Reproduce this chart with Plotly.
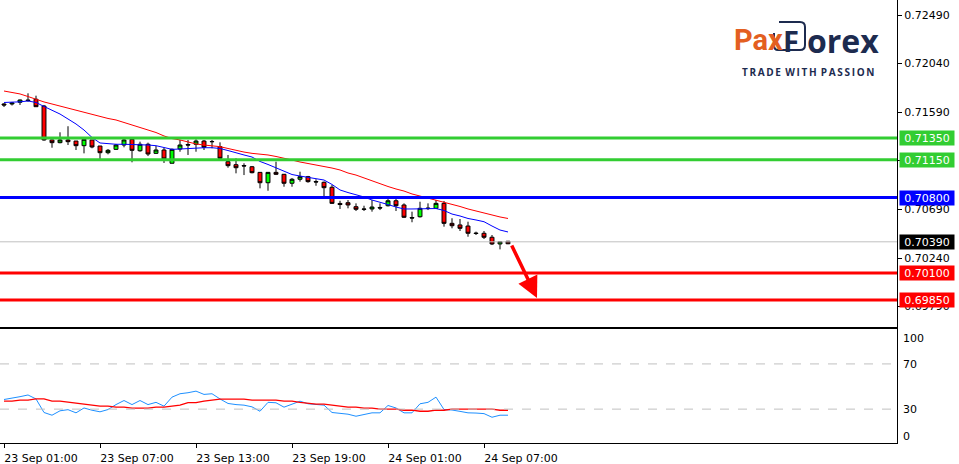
import plotly.graph_objects as go
import pandas as pd

W, H = 959, 464

times = pd.date_range("2020-09-23 01:00", periods=64, freq="30min")

opens = [0.71666,0.71666,0.71682,0.71703,0.71710,0.71647,0.71333,0.71308,0.71333,0.71323,
         0.71280,0.71333,0.71277,0.71215,0.71246,0.71286,0.71339,0.71233,0.71293,0.71209,
         0.71240,0.71117,0.71249,0.71291,0.71293,0.71323,0.71319,0.71271,0.71132,0.71104,
         0.71096,0.71085,0.71033,0.70937,0.71033,0.71015,0.70932,0.70969,0.70993,0.70948,
         0.70941,0.70895,0.70745,0.70752,0.70715,0.70694,0.70694,0.70708,0.70724,0.70770,
         0.70731,0.70615,0.70622,0.70703,0.70700,0.70746,0.70561,0.70546,0.70536,0.70471,
         0.70469,0.70432,0.70370,0.70395]
highs = [0.71675,0.71685,0.71708,0.71765,0.71743,0.71657,0.71337,0.71404,0.71460,0.71323,
         0.71342,0.71333,0.71277,0.71249,0.71296,0.71342,0.71347,0.71317,0.71308,0.71277,
         0.71261,0.71254,0.71333,0.71333,0.71339,0.71333,0.71333,0.71311,0.71194,0.71163,
         0.71117,0.71092,0.71036,0.71036,0.71132,0.71018,0.70981,0.71039,0.71000,0.70969,
         0.70948,0.70916,0.70770,0.70777,0.70746,0.70724,0.70777,0.70746,0.70786,0.70786,
         0.70746,0.70669,0.70761,0.70746,0.70777,0.70768,0.70608,0.70601,0.70576,0.70484,
         0.70490,0.70453,0.70397,0.70398]
lows = [0.71638,0.71652,0.71657,0.71687,0.71641,0.71326,0.71261,0.71302,0.71286,0.71240,
        0.71209,0.71256,0.71157,0.71200,0.71240,0.71265,0.71126,0.71224,0.71184,0.71203,
        0.71120,0.71117,0.71224,0.71194,0.71224,0.71240,0.71256,0.71157,0.71076,0.71024,
        0.71008,0.71024,0.70885,0.70863,0.71008,0.70900,0.70900,0.70947,0.70937,0.70909,
        0.70808,0.70740,0.70694,0.70700,0.70675,0.70675,0.70669,0.70684,0.70717,0.70675,
        0.70610,0.70571,0.70615,0.70684,0.70694,0.70530,0.70515,0.70490,0.70437,0.70453,
        0.70416,0.70360,0.70320,0.70368]
closes = [0.71657,0.71675,0.71703,0.71698,0.71641,0.71333,0.71308,0.71333,0.71317,0.71280,
          0.71339,0.71268,0.71215,0.71237,0.71286,0.71333,0.71237,0.71293,0.71203,0.71240,
          0.71157,0.71246,0.71286,0.71286,0.71323,0.71265,0.71317,0.71163,0.71095,0.71076,
          0.71092,0.71030,0.70937,0.71033,0.71015,0.70932,0.70969,0.70993,0.70947,0.70944,
          0.70891,0.70746,0.70735,0.70731,0.70691,0.70691,0.70712,0.70703,0.70770,0.70724,
          0.70617,0.70610,0.70700,0.70698,0.70746,0.70561,0.70539,0.70515,0.70469,0.70467,
          0.70432,0.70370,0.70391,0.70372]

ma_slow = [0.71786,0.71772,0.71759,0.71735,0.71708,0.71685,0.71666,0.71647,0.71624,0.71606,
           0.71592,0.71573,0.71550,0.71532,0.71518,0.71495,0.71476,0.71453,0.71430,0.71402,
           0.71370,0.71346,0.71333,0.71314,0.71296,0.71286,0.71277,0.71271,0.71254,0.71235,
           0.71221,0.71209,0.71203,0.71194,0.71180,0.71166,0.71147,0.71129,0.71115,0.71106,
           0.71092,0.71073,0.71055,0.71027,0.71008,0.70981,0.70953,0.70925,0.70902,0.70879,
           0.70860,0.70833,0.70814,0.70796,0.70777,0.70758,0.70740,0.70717,0.70694,0.70675,
           0.70652,0.70633,0.70620,0.70606]
ma_fast = [0.71680,0.71682,0.71686,0.71694,0.71680,0.71643,0.71610,0.71573,0.71527,0.71481,
           0.71425,0.71356,0.71305,0.71296,0.71293,0.71293,0.71293,0.71291,0.71286,0.71280,
           0.71263,0.71246,0.71249,0.71254,0.71258,0.71261,0.71261,0.71254,0.71235,0.71212,
           0.71194,0.71175,0.71134,0.71106,0.71073,0.71041,0.71013,0.70999,0.70987,0.70976,
           0.70962,0.70921,0.70870,0.70846,0.70828,0.70805,0.70777,0.70758,0.70735,0.70712,
           0.70694,0.70694,0.70696,0.70700,0.70698,0.70680,0.70647,0.70629,0.70606,0.70592,
           0.70576,0.70536,0.70499,0.70481]

rsi = [38.5,39.5,41,42.5,39,27,24.6,28.5,29.5,26.7,31,29,27.6,29.6,34,37.6,34,37.6,34,36,
       32.6,40.6,43.6,44.5,45.9,43,43.6,39,35,34,33.5,32,28.1,36,35.6,31.7,34.5,37,34.7,34,
       33.5,27,26.5,25.5,23.7,25.5,26.7,26.7,33.2,31,26.7,26.7,34.7,36,40.6,29.6,29.2,28,26.7,26.5,
       26,22.8,24.6,24.6]
rsi_signal = [37,37,38,38,39,39,37,37,36.1,35.3,34.4,33.2,32.6,32.6,31.7,31.7,30.8,30.8,30.8,31.7,
              31.7,32.6,33.5,35.7,35.7,37,38,38.8,38.8,38.8,38.8,38,38,38,38,37,37,36,35,34.4,
              34.4,33.5,32.6,31.7,31.7,30.8,30.8,29.9,29.9,29.9,29,29,28.1,28.1,29,29,29.9,29.9,29.9,29.9,
              29.9,29.9,29,29]

price_ticks = [0.72490, 0.72040, 0.71590, 0.71140, 0.70690, 0.70240, 0.69790]
time_tick_idx = [0, 12, 24, 36, 48, 60]
time_tick_labels = ["23 Sep 01:00", "23 Sep 07:00", "23 Sep 13:00", "23 Sep 19:00",
                    "24 Sep 01:00", "24 Sep 07:00"]

levels = [0.71350, 0.71150, 0.70800, 0.70100, 0.69850]
level_colors = ["#32cd32", "#32cd32", "#0000ff", "#ff0000", "#ff0000"]
bid = 0.70390
rsi_levels = [70, 30]
rsi_labels = ["100", "70", "30", "0"]

FONT = "DejaVu Sans"
LOGO = "Open Sans"
ORANGE = "#e35f21"
NAVY = "#1d2b4f"
XR = 897 / W


def px(x):
    return x / W


def py(y):
    return 1 - y / H


fig = go.Figure()
fig.add_trace(go.Candlestick(
    x=times, open=opens, high=highs, low=lows, close=closes,
    increasing=dict(line=dict(color="black", width=1), fillcolor="#00ff00"),
    decreasing=dict(line=dict(color="black", width=1), fillcolor="#ff0000"),
    whiskerwidth=0, xaxis="x", yaxis="y", showlegend=False, hoverinfo="skip"))
fig.add_trace(go.Scatter(x=times, y=ma_slow, mode="lines", line=dict(color="#ff0000", width=1),
                         xaxis="x", yaxis="y", showlegend=False, hoverinfo="skip"))
fig.add_trace(go.Scatter(x=times, y=ma_fast, mode="lines", line=dict(color="#0000ff", width=1),
                         xaxis="x", yaxis="y", showlegend=False, hoverinfo="skip"))
fig.add_trace(go.Scatter(x=times, y=rsi, mode="lines", line=dict(color="#1e90ff", width=1),
                         xaxis="x2", yaxis="y2", showlegend=False, hoverinfo="skip"))
fig.add_trace(go.Scatter(x=times, y=rsi_signal, mode="lines", line=dict(color="#ff0000", width=1.3),
                         xaxis="x2", yaxis="y2", showlegend=False, hoverinfo="skip"))

xrange = [pd.Timestamp("2020-09-23 00:45"), pd.Timestamp("2020-09-25 08:48:45")]

shapes = []
annotations = []
# bid line
shapes.append(dict(type="line", xref="x domain", yref="y", x0=0, x1=1, y0=bid, y1=bid,
                   line=dict(color="#c0c0c0", width=1)))
for lv, col in zip(levels, level_colors):
    shapes.append(dict(type="line", xref="x domain", yref="y", x0=0, x1=1, y0=lv, y1=lv,
                       line=dict(color=col, width=3)))
for lv in rsi_levels:
    shapes.append(dict(type="line", xref="x2 domain", yref="y2", x0=0, x1=1, y0=lv, y1=lv,
                       line=dict(color="#c0c0c0", width=1, dash="dash")))

# right-side price labels
for lv, col in list(zip(levels, level_colors)) + [(bid, "#000000")]:
    annotations.append(dict(xref="paper", yref="y", x=px(899), y=lv, xanchor="left",
                            yanchor="middle", text=f"{lv:.5f}", showarrow=False,
                            bgcolor=col, width=54, height=14, borderpad=0, align="center",
                            font=dict(family=FONT, size=11, color="white")))

# RSI labels
for txt, yy in zip(rsi_labels, [338, 364, 409, 436]):
    annotations.append(dict(xref="paper", yref="paper", x=px(901), y=py(yy), xanchor="left",
                            yanchor="middle", text=txt, showarrow=False,
                            font=dict(family=FONT, size=11, color="black")))

# arrow
annotations.append(dict(xref="paper", yref="paper", x=px(537), y=py(298), ax=-26, ay=-54,
                        axref="pixel", ayref="pixel", text="", showarrow=True, arrowhead=2,
                        arrowsize=1.2, arrowwidth=3.5, arrowcolor="#ff0000"))

# logo
shapes.append(dict(type="path", xref="paper", yref="paper",
                   path=(f"M {px(779)} {py(22)} L {px(800)} {py(22)} Q {px(805)} {py(22)} {px(805)} {py(27)} "
                         f"L {px(805)} {py(45)} Q {px(805)} {py(50)} {px(800)} {py(50)} "
                         f"L {px(778)} {py(50)} Q {px(774)} {py(50)} {px(774)} {py(45)} "
                         f"L {px(774)} {py(33)}"),
                   line=dict(color=NAVY, width=2)))
annotations.append(dict(xref="paper", yref="paper", x=px(732), y=py(40), xanchor="left",
                        yanchor="middle", showarrow=False,
                        text="<b>Pax</b>", font=dict(family="Roboto", size=29, color=ORANGE)))
annotations.append(dict(xref="paper", yref="paper", x=px(791), y=py(40), xanchor="center",
                        yanchor="middle", showarrow=False,
                        text="<b>F</b>", font=dict(family=LOGO, size=29, color=NAVY)))
annotations.append(dict(xref="paper", yref="paper", x=px(805), y=py(40), xanchor="left",
                        yanchor="middle", showarrow=False,
                        text="<b>orex</b>", font=dict(family=LOGO, size=32, color=NAVY)))
annotations.append(dict(xref="paper", yref="paper", x=px(808), y=py(72), xanchor="center",
                        yanchor="middle", showarrow=False,
                        text="<b>T\u2009R\u2009A\u2009D\u2009E \u2009W\u2009I\u2009T\u2009H \u2009P\u2009A\u2009S\u2009S\u2009I\u2009O\u2009N</b>",
                        font=dict(family=LOGO, size=10, color=NAVY)))

fig.update_layout(
    width=W, height=H, margin=dict(l=0, r=0, t=0, b=0),
    paper_bgcolor="white", plot_bgcolor="white",
    showlegend=False,
    xaxis=dict(domain=[0, XR], range=xrange, type="date", anchor="y",
               showgrid=False, zeroline=False, showticklabels=False, ticks="",
               showline=True, linecolor="black", linewidth=1, rangeslider=dict(visible=False)),
    yaxis=dict(domain=[py(327), 1], range=[0.696011, 0.726289], side="right", anchor="x",
               showgrid=False, zeroline=False, tickvals=price_ticks,
               ticktext=[f"{v:.5f}" for v in price_ticks], ticks="outside", ticklen=4,
               tickcolor="black", showline=True, linecolor="black", linewidth=1,
               tickfont=dict(family=FONT, size=11, color="black")),
    xaxis2=dict(domain=[0, XR], range=xrange, type="date", anchor="y2", matches="x",
                showgrid=False, zeroline=False, showline=True, mirror=True, linecolor="black",
                linewidth=1, ticks="outside", ticklen=4, tickcolor="black",
                tickvals=[times[i] for i in time_tick_idx], ticktext=time_tick_labels,
                ticklabelshift=37, ticklabelstandoff=1,
                tickfont=dict(family=FONT, size=11, color="black")),
    yaxis2=dict(domain=[py(443), py(329)], range=[0, 100.9], side="right", anchor="x2",
                showgrid=False, zeroline=False, showticklabels=False, ticks="",
                showline=True, linecolor="black", linewidth=1),
    shapes=shapes, annotations=annotations,
)

fig.write_html("out.html", config={"displayModeBar": False},
               post_script="document.body.style.margin='0';document.body.style.padding='0';")
